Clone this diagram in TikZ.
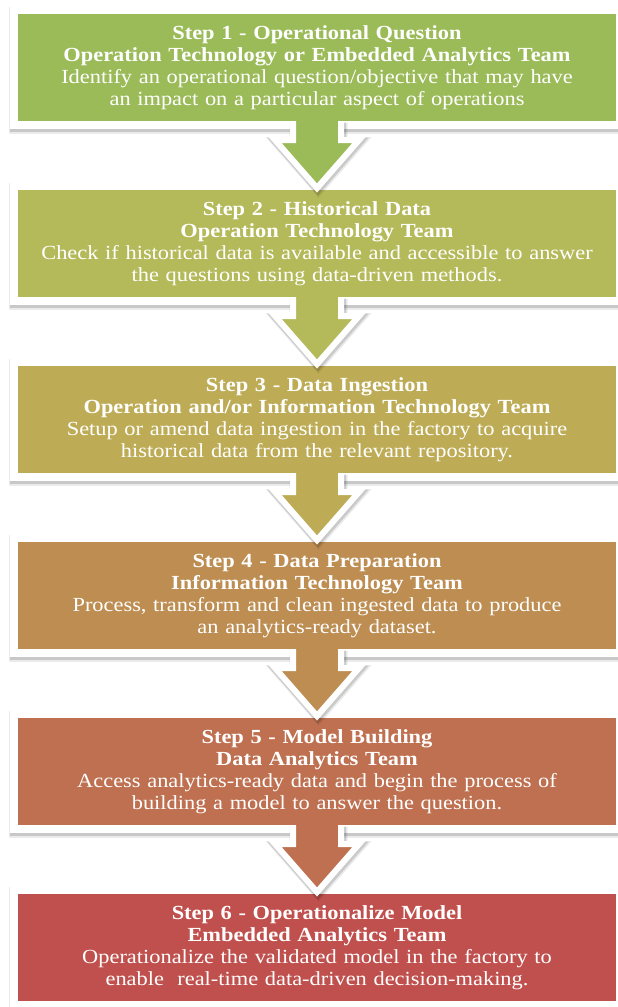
\documentclass[tikz,border=0pt]{standalone}
\usepackage{fontspec}
\setmainfont{Liberation Serif}[FakeStretch=1.12]
\usetikzlibrary{positioning, calc}
\definecolor{stepone}{HTML}{9BBB59}
\definecolor{steptwo}{HTML}{B4BA5A}
\definecolor{stepthree}{HTML}{BDAC55}
\definecolor{stepfour}{HTML}{BD8D52}
\definecolor{stepfive}{HTML}{BE7050}
\definecolor{stepsix}{HTML}{C0504D}

\begin{document}
\begin{tikzpicture}[x=1pt, y=1pt,
    stepbox/.style={rectangle, draw=white, line width=8pt, outer sep=0pt,
        minimum width=606pt, minimum height=115pt, text width=590pt, align=center,
        text=white, font=\fontsize{20}{22}\selectfont,
        preaction={draw=black, draw opacity=0.08, line width=12pt, transform canvas={xshift=0.5pt, yshift=-2.5pt}},
        preaction={draw=black, draw opacity=0.15, line width=10pt, transform canvas={xshift=0.5pt, yshift=-1.5pt}}},
    flowarrow/.style={draw=white, line width=6pt, line join=miter,
        preaction={draw=black, draw opacity=0.08, line width=10pt, line join=miter, transform canvas={xshift=1.5pt, yshift=-2pt}},
        preaction={draw=black, draw opacity=0.14, line width=8pt, line join=miter, transform canvas={xshift=1pt, yshift=-1.5pt}}}]
    \useasboundingbox (0,0) rectangle (618,-1007);

    % Steps
    \node[stepbox, fill=stepone] (s1) at (317,-67.5) {\textbf{Step 1 - Operational Question}\\
        \textbf{Operation Technology or Embedded Analytics Team}\\
        Identify an operational question/objective that may have\\
        an impact on a particular aspect of operations};
    \node[stepbox, fill=steptwo, below=61pt of s1] (s2) {\textbf{Step 2 - Historical Data}\\
        \textbf{Operation Technology Team}\\
        Check if historical data is available and accessible to answer\\
        the questions using data-driven methods.};
    \node[stepbox, fill=stepthree, below=61pt of s2] (s3) {\textbf{Step 3 - Data Ingestion}\\
        \textbf{Operation and/or Information Technology Team}\\
        Setup or amend data ingestion in the factory to acquire\\
        historical data from the relevant repository.};
    \node[stepbox, fill=stepfour, below=61pt of s3] (s4) {\textbf{Step 4 - Data Preparation}\\
        \textbf{Information Technology Team}\\
        Process, transform and clean ingested data to produce\\
        an analytics-ready dataset.};
    \node[stepbox, fill=stepfive, below=61pt of s4] (s5) {\textbf{Step 5 - Model Building}\\
        \textbf{Data Analytics Team}\\
        Access analytics-ready data and begin the process of\\
        building a model to answer the question.};
    \node[stepbox, fill=stepsix, below=61pt of s5] (s6) {\textbf{Step 6 - Operationalize Model}\\
        \textbf{Embedded Analytics Team}\\
        Operationalize the validated model in the factory to\\
        enable~ real-time data-driven decision-making.};

    % Block arrows between the steps
    \foreach \a/\b/\c in {s1/s2/stepone, s2/s3/steptwo, s3/s4/stepthree, s4/s5/stepfour, s5/s6/stepfive} {
        \filldraw[flowarrow, fill=\c] ($(\a.south)+(-24,4)$) -- ++(0,-19) -- ++(-18,0)
            -- ($(\b.north)+(0,-2)$) -- ($(\a.south)+(42,-15)$) -- ++(-18,0) -- ++(0,19);
    }
\end{tikzpicture}
\end{document}
